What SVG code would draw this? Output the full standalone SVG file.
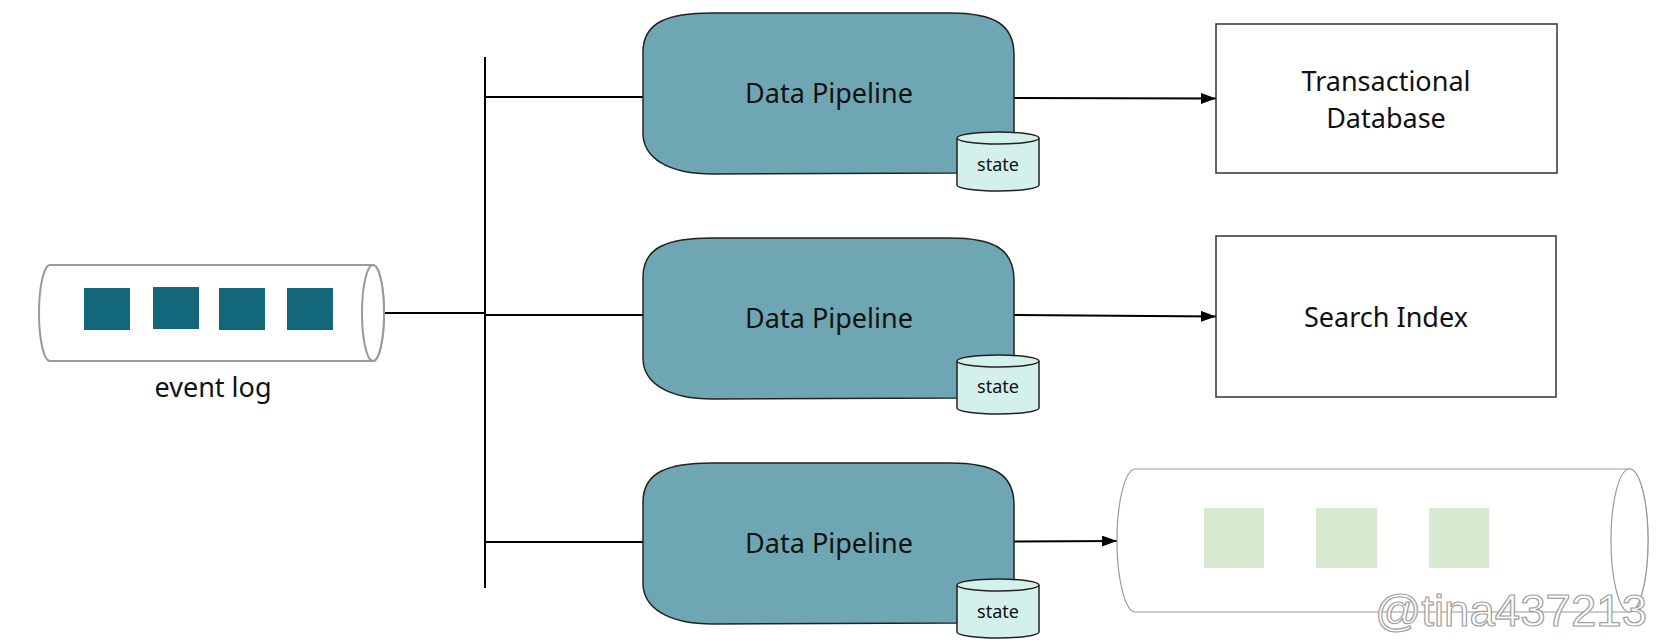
<svg xmlns="http://www.w3.org/2000/svg" width="1656" height="642" viewBox="0 0 1656 642">
<style>
.lbl{font-family:"Noto Sans","Open Sans","Liberation Sans",sans-serif;font-size:27px;fill:#111;text-anchor:middle}
.st{font-family:"Noto Sans","Open Sans","Liberation Sans",sans-serif;font-size:18px;fill:#111;text-anchor:middle}
.pipe{fill:#6ea7b3;stroke:#222;stroke-width:1.5}
.state{fill:#d3f0ea;stroke:#222;stroke-width:1.5}
.box{fill:#fff;stroke:#333;stroke-width:1.5}
.conn{fill:none;stroke:#000;stroke-width:2}
.evsq{fill:#13677a}
.outsq{fill:#d9ead3}
.wm{font-family:"Liberation Sans",Arial,sans-serif;font-size:44px;fill:#fff;stroke:#a0a0a0;stroke-width:1.2}
</style>
<defs>
<marker id="ah" markerUnits="userSpaceOnUse" viewBox="0 0 15 11" refX="15" refY="5.5" markerWidth="15" markerHeight="11" orient="auto">
<path d="M0,0 L15,5.5 L0,11 Z" fill="#000"/>
</marker>
</defs>
<g id="connectors">
<line class="conn" x1="485" y1="57" x2="485" y2="588"/>
<line class="conn" x1="384" y1="313" x2="485" y2="313"/>
<line class="conn" x1="485" y1="97" x2="644" y2="97"/>
<line class="conn" x1="485" y1="315" x2="644" y2="315"/>
<line class="conn" x1="485" y1="542" x2="644" y2="542"/>
<path class="conn" d="M1014,98 L1216,98.5" marker-end="url(#ah)"/>
<path class="conn" d="M1014,315 L1216,316.5" marker-end="url(#ah)"/>
<path class="conn" d="M1014,541.5 L1117,541" marker-end="url(#ah)"/>
</g>
<g id="event-log">
<path d="M50,265 L373,265 A11,48 0 0 1 373,361 L50,361 A11,48 0 0 1 50,265 Z" fill="#fff" stroke="#9a9a9a" stroke-width="2"/>
<ellipse cx="373" cy="313" rx="11" ry="48" fill="#fff" stroke="#9a9a9a" stroke-width="2"/>
<rect class="evsq" x="84" y="288" width="46" height="42"/>
<rect class="evsq" x="153" y="287" width="46" height="42"/>
<rect class="evsq" x="219" y="288" width="46" height="42"/>
<rect class="evsq" x="287" y="288" width="46" height="42"/>
<text class="lbl" x="213" y="397">event log</text>
</g>
<g id="pipeline-1">
<path class="pipe" d="M643,52 C643,22 668,13 712,13 L950,13 C995,13 1014,25 1014,55 L1014,133 C1014,163 990,172 957,173 L713,174 C668,174 643,158 643,133 Z"/>
<text class="lbl" x="829" y="103">Data Pipeline</text>
</g>
<g id="state-1">
<path class="state" d="M957,138 A41,6 0 0 1 1039,138 L1039,185 A41,6 0 0 1 957,185 Z"/>
<path class="state" d="M957,138 A41,6 0 0 0 1039,138" fill="none"/>
<text class="st" x="998" y="171">state</text>
</g>
<g id="pipeline-2">
<path class="pipe" d="M643,277 C643,247 668,238 712,238 L950,238 C995,238 1014,250 1014,280 L1014,358 C1014,388 990,397 957,398 L713,399 C668,399 643,383 643,358 Z"/>
<text class="lbl" x="829" y="328">Data Pipeline</text>
</g>
<g id="state-2">
<path class="state" d="M957,361 A41,6 0 0 1 1039,361 L1039,408 A41,6 0 0 1 957,408 Z"/>
<path class="state" d="M957,361 A41,6 0 0 0 1039,361" fill="none"/>
<text class="st" x="998" y="393">state</text>
</g>
<g id="pipeline-3">
<path class="pipe" d="M643,502 C643,472 668,463 712,463 L950,463 C995,463 1014,475 1014,505 L1014,583 C1014,613 990,622 957,623 L713,624 C668,624 643,608 643,583 Z"/>
<text class="lbl" x="829" y="553">Data Pipeline</text>
</g>
<g id="state-3">
<path class="state" d="M957,585 A41,6 0 0 1 1039,585 L1039,632 A41,6 0 0 1 957,632 Z"/>
<path class="state" d="M957,585 A41,6 0 0 0 1039,585" fill="none"/>
<text class="st" x="998" y="618">state</text>
</g>
<g id="transactional-db">
<rect class="box" x="1216" y="24" width="341" height="149"/>
<text class="lbl" x="1386" y="91">Transactional</text>
<text class="lbl" x="1386" y="128">Database</text>
</g>
<g id="search-index">
<rect class="box" x="1216" y="236" width="340" height="161"/>
<text class="lbl" x="1386" y="327">Search Index</text>
</g>
<g id="output-log">
<path d="M1135.5,469 L1629.5,469 A18.5,71.5 0 0 1 1629.5,612 L1135.5,612 A18.5,71.5 0 0 1 1135.5,469 Z" fill="#fff" stroke="#9a9a9a" stroke-width="1.2"/>
<ellipse cx="1629.5" cy="540.5" rx="18.5" ry="71.5" fill="#fff" stroke="#9a9a9a" stroke-width="1.2"/>
<rect class="outsq" x="1204" y="508" width="60" height="60"/>
<rect class="outsq" x="1316" y="508" width="61" height="60"/>
<rect class="outsq" x="1429" y="508" width="60" height="60"/>
</g>
<text class="wm" x="1375" y="626" textLength="272" lengthAdjust="spacingAndGlyphs">@tina437213</text>
</svg>
